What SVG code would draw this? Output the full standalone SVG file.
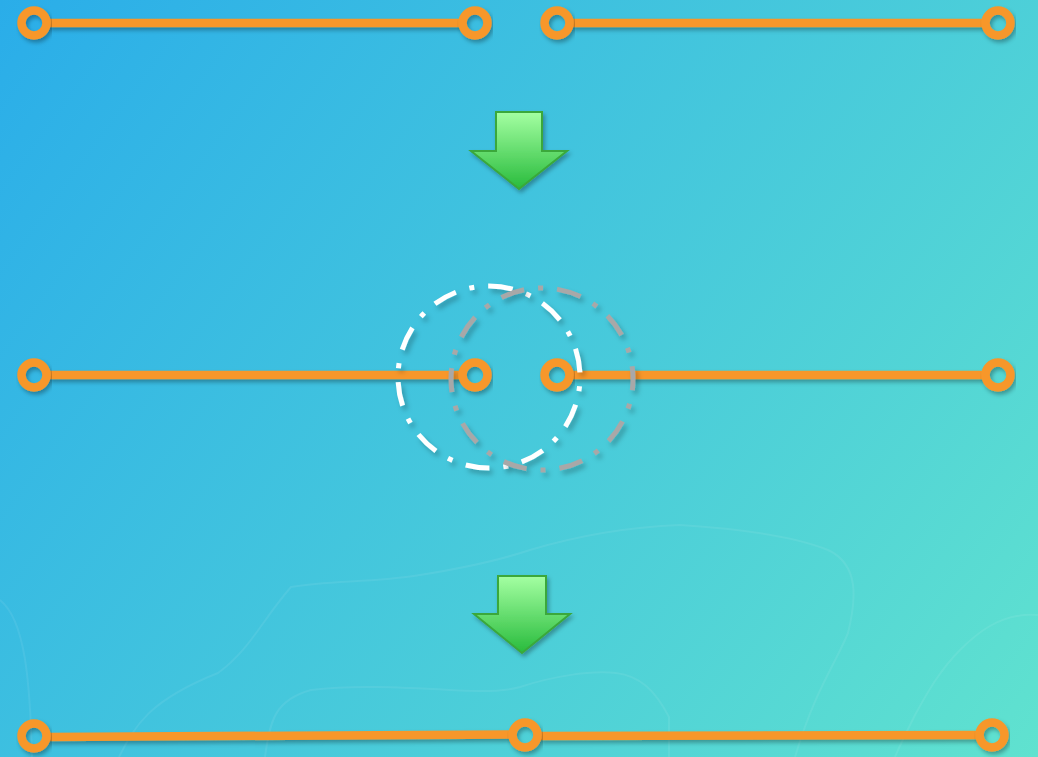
<svg xmlns="http://www.w3.org/2000/svg" width="1038" height="757" viewBox="0 0 1038 757">
<defs>
<linearGradient id="bg" gradientUnits="userSpaceOnUse" x1="0" y1="0" x2="1038" y2="757">
<stop offset="0" stop-color="#2aade9"/>
<stop offset="1" stop-color="#60e2cf"/>
</linearGradient>
<linearGradient id="arrowFill" x1="0" y1="0" x2="0" y2="1">
<stop offset="0" stop-color="#a4ffa2"/>
<stop offset="1" stop-color="#28bb3c"/>
</linearGradient>
<filter id="sh" x="-20%" y="-50%" width="140%" height="200%">
<feDropShadow dx="2" dy="3" stdDeviation="2" flood-color="#000" flood-opacity="0.3"/>
</filter>
<filter id="shc" x="-20%" y="-20%" width="140%" height="140%">
<feDropShadow dx="3" dy="4" stdDeviation="2.5" flood-color="#000" flood-opacity="0.25"/>
</filter>
</defs>
<style>
.seg{stroke:#f7972a;stroke-width:8.5;fill:none}
.ring{stroke:#f7972a;stroke-width:8.5;fill:none}
.arrow{fill:url(#arrowFill);stroke:#3aa83a;stroke-width:2;stroke-linejoin:miter}
.contour{fill:none;stroke:#ffffff;stroke-opacity:0.07;stroke-width:2}
.dcw{fill:none;stroke:#ffffff;stroke-width:5;stroke-dasharray:24 14 5 14}
.dcg{fill:none;stroke:#a8a8a8;stroke-width:5;stroke-dasharray:24 14 5 14}
</style>
<rect x="0" y="0" width="1038" height="757" fill="url(#bg)"/>
<g id="background-contours">
<path class="contour" d="M0,600 C25,620 30,680 32,757"/>
<path class="contour" d="M119,757 C135,725 150,700 218,673 C250,650 262,620 291,587 C330,580 371,583 420,575 C470,567 500,560 530,550 C580,535 629,527 680,525 C728,528 790,535 828,550 C860,565 856,600 848,633 C835,665 815,690 795,757"/>
<path class="contour" d="M265,757 C270,720 275,700 311,690 C350,685 397,687 450,690 C480,692 503,692 520,687 C550,677 590,670 616,673 C640,676 655,690 669,717 L669,757"/>
<path class="contour" d="M1038,615 C1000,612 975,635 960,650 C940,670 927,693 915,715 C905,735 900,745 895,757"/>
</g>
<g id="connectors">
<g filter="url(#sh)">
<line class="seg" x1="48" y1="23" x2="461" y2="23"/>
<line class="seg" x1="571" y1="23" x2="984" y2="23"/>
<line class="seg" x1="48" y1="375" x2="461" y2="375"/>
<line class="seg" x1="571" y1="375" x2="984" y2="375"/>
<line class="seg" x1="48" y1="737" x2="511" y2="734.5"/>
<line class="seg" x1="539" y1="736" x2="978" y2="735"/>
</g>
</g>
<g id="row1-left-start" filter="url(#sh)"><circle class="ring" cx="34" cy="23" r="12.5"/></g>
<g id="row1-left-end" filter="url(#sh)"><circle class="ring" cx="475" cy="23" r="12.5"/></g>
<g id="row1-right-start" filter="url(#sh)"><circle class="ring" cx="557" cy="23" r="12.5"/></g>
<g id="row1-right-end" filter="url(#sh)"><circle class="ring" cx="998" cy="23" r="12.5"/></g>
<g id="arrow1" filter="url(#sh)"><path class="arrow" d="M496,112 L542,112 L542,151 L567,151 L519,189 L471,151 L496,151 Z"/></g>
<g id="snap-circle-white" filter="url(#shc)"><circle class="dcw" cx="489" cy="377" r="91" transform="rotate(-90 489 377)"/></g>
<g id="snap-circle-gray" filter="url(#shc)"><circle class="dcg" cx="542" cy="379" r="91" transform="rotate(-80 542 379)"/></g>
<g id="row2-left-start" filter="url(#sh)"><circle class="ring" cx="34" cy="375" r="12.5"/></g>
<g id="row2-left-end" filter="url(#sh)"><circle class="ring" cx="475" cy="375" r="12.5"/></g>
<g id="row2-right-start" filter="url(#sh)"><circle class="ring" cx="557" cy="375" r="12.5"/></g>
<g id="row2-right-end" filter="url(#sh)"><circle class="ring" cx="998" cy="375" r="12.5"/></g>
<g id="arrow2" filter="url(#sh)"><path class="arrow" d="M498,576 L546,576 L546,614 L570,614 L522,653 L474,614 L498,614 Z"/></g>
<g id="row3-start" filter="url(#sh)"><circle class="ring" cx="34" cy="736" r="12.5"/></g>
<g id="row3-mid" filter="url(#sh)"><circle class="ring" cx="525" cy="735" r="12.5"/></g>
<g id="row3-end" filter="url(#sh)"><circle class="ring" cx="992" cy="735" r="12.5"/></g>
</svg>
